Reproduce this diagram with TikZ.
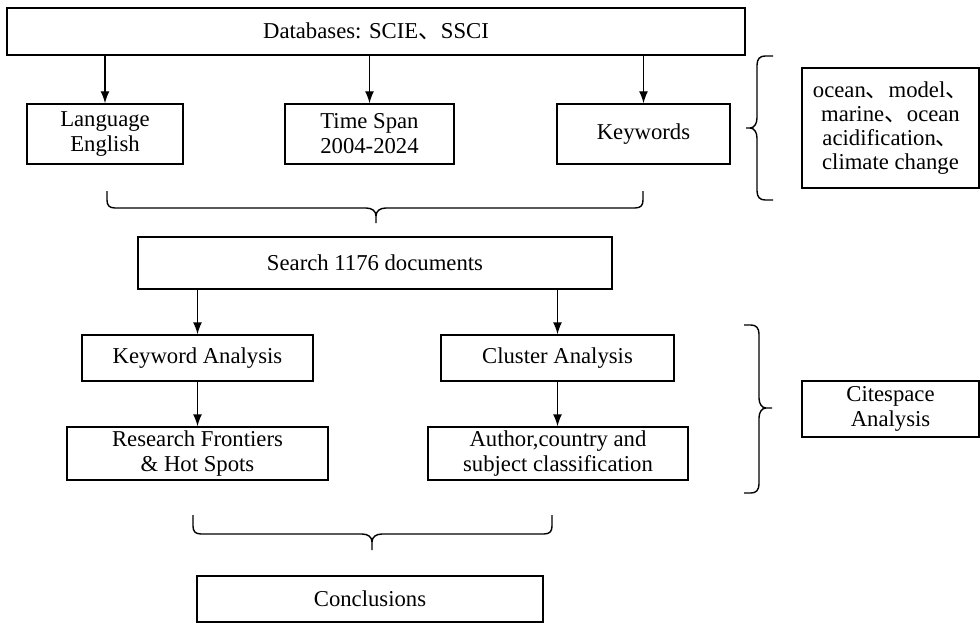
\documentclass[tikz,border=0pt]{standalone}
\usepackage{fontspec}
\setmainfont{Liberation Serif}
\newfontfamily\cjkfont{Noto Sans CJK SC}
\usetikzlibrary{arrows.meta}
\newcommand\dunmark{{\cjkfont 、}}
\begin{document}
\begin{tikzpicture}[x=1pt,y=-1pt,line width=1.4pt,
  box/.style={draw, inner sep=2pt, align=center, font=\fontsize{22.7}{25}\selectfont},
  arr/.style={-{Latex[length=12pt,width=9pt]}}]
\useasboundingbox (0,0) rectangle (980,623);

\node[box, minimum width=738pt, minimum height=47pt] (db) at (376,31.5) {Databases: SCIE\dunmark SSCI};
\node[box, minimum width=156pt, minimum height=60pt] (lang) at (105,134) {Language\\English};
\node[box, minimum width=169pt, minimum height=60pt] (time) at (369.5,134) {Time Span\\2004-2024};
\node[box, minimum width=173pt, minimum height=60pt] (kw) at (643.5,134) {Keywords};
\node[box, minimum width=177pt, minimum height=120pt, font=\fontsize{22.7}{24}\selectfont] (kwl) at (890.5,128) {ocean\dunmark model\dunmark\\marine\dunmark ocean\\acidification\dunmark\\climate change};
\node[box, minimum width=474pt, minimum height=52pt] (search) at (375,263) {Search 1176 documents};
\node[box, minimum width=231pt, minimum height=46pt] (ka) at (197.5,358) {Keyword Analysis};
\node[box, minimum width=233pt, minimum height=46pt] (ca) at (557.5,358) {Cluster Analysis};
\node[box, minimum width=261pt, minimum height=53pt] (rf) at (197.5,453.5) {Research Frontiers\\\& Hot Spots};
\node[box, minimum width=260pt, minimum height=53pt] (au) at (558,453.5) {Author,country and\\subject classification};
\node[box, minimum width=177pt, minimum height=56pt] (cs) at (890.5,409) {Citespace\\Analysis};
\node[box, minimum width=346pt, minimum height=46pt] (con) at (370,599) {Conclusions};

% arrows
\draw[arr] (db.south -| lang) -- (lang.north);
\draw[arr] (db.south -| time) -- (time.north);
\draw[arr] (db.south -| kw) -- (kw.north);
\draw[arr] (search.south -| ka) -- (ka.north);
\draw[arr] (search.south -| ca) -- (ca.north);
\draw[arr] (ka.south) -- (ka.south |- rf.north);
\draw[arr] (ca.south) -- (ca.south |- au.north);

% brace under second row
\draw (107,191) -- (107,200) .. controls (107,205) and (109,208) .. (115,208) -- (366,208)
  .. controls (372,208) and (376,211) .. (376,216) -- (376,223);
\draw (643,191) -- (643,200) .. controls (643,205) and (641,208) .. (635,208) -- (386,208)
  .. controls (380,208) and (376,211) .. (376,216);

% brace above conclusions
\draw (193,515) -- (193,526) .. controls (193,531) and (195,534) .. (201,534) -- (362,534)
  .. controls (368,534) and (372,537) .. (372,542) -- (372,550);
\draw (552,515) -- (552,526) .. controls (552,531) and (550,534) .. (544,534) -- (382,534)
  .. controls (376,534) and (372,537) .. (372,542);

% right brace (keywords)
\draw (773,56) -- (765,56) .. controls (760,56) and (757,59) .. (757,65) -- (757,118)
  .. controls (757,124) and (754,128) .. (750,128) -- (746,128);
\draw (773,200) -- (765,200) .. controls (760,200) and (757,197) .. (757,191) -- (757,138)
  .. controls (757,132) and (754,128) .. (750,128);

% right brace (citespace)
\draw (744,325) -- (751,325) .. controls (756,325) and (759,328) .. (759,334) -- (759,398)
  .. controls (759,404) and (762,408) .. (766,408) -- (772,408);
\draw (744,493) -- (751,493) .. controls (756,493) and (759,490) .. (759,484) -- (759,418)
  .. controls (759,412) and (762,408) .. (766,408);
\end{tikzpicture}
\end{document}
